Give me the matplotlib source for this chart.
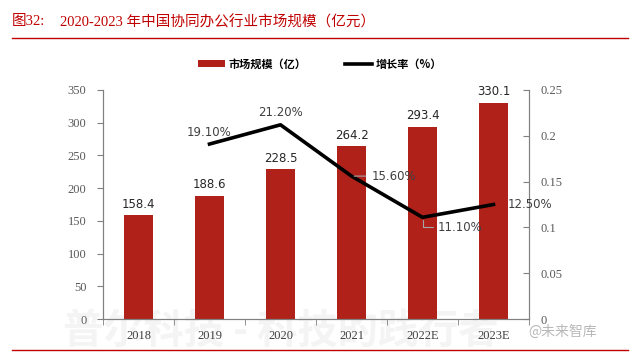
import numpy as np
import matplotlib
matplotlib.use('agg')
import matplotlib.pyplot as plt
from matplotlib.lines import Line2D
from matplotlib.patches import Patch

plt.rcParams['font.family'] = ['Liberation Serif', 'Noto Sans CJK SC']

years = ['2018', '2019', '2020', '2021', '2022E', '2023E']
market = [158.4, 188.6, 228.5, 264.2, 293.4, 330.1]
growth_years = ['2019', '2020', '2021', '2022E', '2023E']
growth = [0.191, 0.212, 0.156, 0.111, 0.125]
growth_labels = ['19.10%', '21.20%', '15.60%', '11.10%', '12.50%']

bar_color = '#B0211A'
title_color = '#C00000'
tick_color = '#595959'

fig = plt.figure(figsize=(6.4, 3.55), dpi=100)

# faint watermark behind the plot
fig.text(63/640, 1-331/355, '普尔科技 - 科技的践行者', fontsize=29, color='#F4F4F4',
         family=['Noto Sans CJK SC'], weight='bold', va='center', zorder=-5)

ax = fig.add_axes([103/640, 1-319/355, (529-103)/640, (319-90)/355])
ax.patch.set_alpha(0)
ax2 = ax.twinx()

x = np.arange(len(years))
ax.bar(x, market, width=0.4, color=bar_color, zorder=2)
for xi, v in zip(x, market):
    ax.text(xi, v + 7, '%.1f' % v, ha='center', va='bottom', fontsize=8.5,
            family=['DejaVu Sans'], color='#262626')

ax.set_xlim(-0.5, len(years) - 0.5)
ax.set_ylim(0, 350)
ax.set_yticks(range(0, 351, 50))
ax.set_xticks(x)
ax.set_xticklabels(years)
ax.set_xticks(np.arange(-0.5, len(years) - 0.4, 1), minor=True)
ax.tick_params(axis='x', which='major', length=0, pad=8, labelsize=9, labelcolor='#404040')
ax.tick_params(axis='x', which='minor', length=4, color='#808080')
ax.tick_params(axis='y', length=4, color='#808080', labelsize=9, labelcolor=tick_color, pad=8)
ax.spines['top'].set_visible(False)
for s in ['left', 'bottom', 'right']:
    ax.spines[s].set_color('#808080')

gx = [years.index(y) for y in growth_years]
ax2.plot(gx, growth, color='black', linewidth=2.6, zorder=3)
ax2.set_ylim(0, 0.25)
ax2.set_yticks([0, 0.05, 0.1, 0.15, 0.2, 0.25])
ax2.set_yticklabels(['0', '0.05', '0.1', '0.15', '0.2', '0.25'])
ax2.tick_params(axis='y', direction='in', length=4, color='#808080', labelsize=9,
                labelcolor=tick_color, pad=8)
ax2.spines['top'].set_visible(False)
for s in ['left', 'bottom', 'right']:
    ax2.spines[s].set_color('#808080')

lab_font = dict(fontsize=8.5, family=['DejaVu Sans'], color='#404040')
ax2.text(gx[0], growth[0] + 0.006, growth_labels[0], ha='center', va='bottom', **lab_font)
ax2.text(gx[1], growth[1] + 0.006, growth_labels[1], ha='center', va='bottom', **lab_font)
ax2.annotate(growth_labels[2], xy=(gx[2], growth[2]), xytext=(gx[2] + 0.28, growth[2]),
             va='center', ha='left', **lab_font,
             arrowprops=dict(arrowstyle='-', color='#A6A6A6', lw=0.8))
ax2.annotate(growth_labels[3], xy=(gx[3], growth[3]), xytext=(gx[3] + 0.22, growth[3] - 0.011),
             va='center', ha='left', **lab_font,
             arrowprops=dict(arrowstyle='-', color='#A6A6A6', lw=0.8,
                             connectionstyle='angle,angleA=0,angleB=90,rad=0'))
ax2.text(gx[4] + 0.2, growth[4], growth_labels[4], ha='left', va='center', **lab_font)

handles = [Patch(facecolor=bar_color, label='市场规模（亿）'),
           Line2D([0], [0], color='black', linewidth=2.6, label='增长率（%）')]
fig.legend(handles=handles, loc='center', bbox_to_anchor=(0.5, 1-64/355), ncol=2,
           frameon=False, prop={'family': ['Noto Sans CJK SC'], 'size': 8, 'weight': 'bold'},
           handlelength=2.4, handleheight=0.6, columnspacing=3.5, handletextpad=0.3)

fig.text(12/640, 1-22/355, '图32:', fontsize=10.5, color=title_color, va='center')
fig.text(60/640, 1-22/355, '2020-2023 年中国协同办公行业市场规模（亿元）', fontsize=10.5,
         color=title_color, va='center')
fig.add_artist(Line2D([12/640, 628/640], [1-38/355, 1-38/355], color=title_color, lw=1))
fig.add_artist(Line2D([12/640, 628/640], [1-350/355, 1-350/355], color=title_color, lw=1))

fig.text(528/640, 1-332/355, '@未来智库', fontsize=10, color='#B8B8B8',
         family=['Noto Sans CJK SC'], va='center')

fig.savefig('out.png', dpi=100)
